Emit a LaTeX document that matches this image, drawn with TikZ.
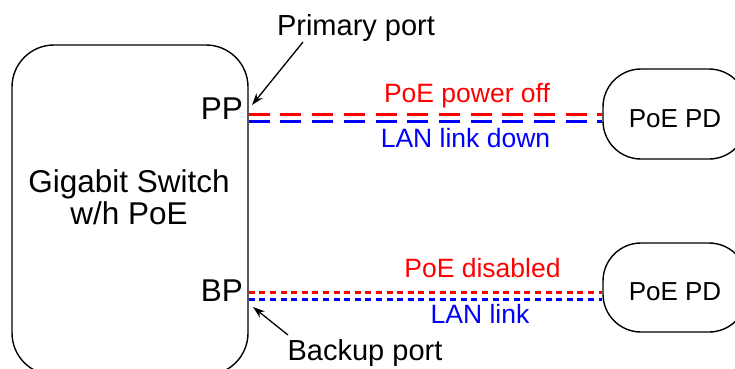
\documentclass[tikz,border=0pt]{standalone}
\usepackage{fontspec}
\setmainfont{Liberation Sans}
\usetikzlibrary{arrows.meta}
\definecolor{pred}{RGB}{255,0,0}
\definecolor{pblue}{RGB}{0,0,255}
\begin{document}
\begin{tikzpicture}[x=1pt,y=-1pt,
  box/.style={draw=black, line width=1.4pt},
  txt/.style={inner sep=0pt, anchor=base},
  big/.style={txt, font=\fontsize{31.5}{32}\selectfont},
  port/.style={txt, font=\fontsize{29}{32}\selectfont},
  lbl/.style={txt, font=\fontsize{26.5}{30}\selectfont},
  longdash/.style={line width=3pt, dash pattern=on 21pt off 10.7pt},
  shortdash/.style={line width=3pt, dash pattern=on 6pt off 4.6pt},
  ptr/.style={line width=1.3pt, -{Stealth[length=12pt,width=8pt]}}]
\useasboundingbox (0,0) rectangle (735,368);
% switch
\node[box, rounded corners=42pt, minimum width=236pt, minimum height=330pt, inner sep=0pt] (sw) at (130,210) {};
\node[inner sep=0pt, align=center, font=\fontsize{31.5}{32}\selectfont] (swt) at (129,197.5) {Gigabit Switch\\w/h PoE};
\node[big, anchor=base east] (pp) at (243,119) {PP};
\node[big, anchor=base east] (bp) at (243,301) {BP};
% PDs
\node[box, rounded corners=38pt, minimum width=144pt, minimum height=90pt, inner sep=0pt] (pd1) at (675,114) {};
\node[box, rounded corners=38pt, minimum width=144pt, minimum height=89pt, inner sep=0pt] (pd2) at (675,287.5) {};
\node[lbl, font=\fontsize{26}{30}\selectfont] (pd1t) at (675,127) {PoE PD};
\node[lbl, font=\fontsize{26}{30}\selectfont] (pd2t) at (675,300) {PoE PD};
% connectors
\draw[longdash, pred] (sw.east |- 0,114) -- (pd1.west |- 0,114);
\draw[longdash, pblue] (sw.east |- 0,121) -- (pd1.west |- 0,121);
\draw[shortdash, pred] (sw.east |- 0,292) -- (pd2.west |- 0,292);
\draw[shortdash, pblue] (sw.east |- 0,299.5) -- (pd2.west |- 0,299.5);
% line labels
\node[lbl, text=pred] (l1) at (467,102) {PoE power off};
\node[lbl, text=pblue] (l2) at (465.5,147) {LAN link down};
\node[lbl, text=pred] (l3) at (482.5,277) {PoE disabled};
\node[lbl, text=pblue] (l4) at (480,323) {LAN link};
% port labels
\node[port] (prim) at (356,35) {Primary port};
\node[port] (back) at (365,360) {Backup port};
\coordinate (primtail) at (303,42);
\coordinate (primtip) at (252,105);
\coordinate (backtail) at (288,335);
\coordinate (backtip) at (253,307);
\draw[ptr] (primtail) -- (primtip);
\draw[ptr] (backtail) -- (backtip);
\end{tikzpicture}
\end{document}
